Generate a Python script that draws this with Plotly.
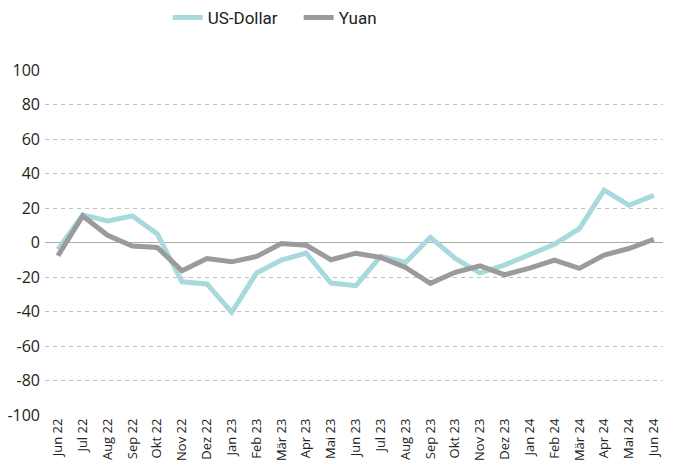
import plotly.graph_objects as go

months = ["Jun 22", "Jul 22", "Aug 22", "Sep 22", "Okt 22", "Nov 22", "Dez 22",
          "Jan 23", "Feb 23", "Mär 23", "Apr 23", "Mai 23", "Jun 23", "Jul 23",
          "Aug 23", "Sep 23", "Okt 23", "Nov 23", "Dez 23", "Jan 24", "Feb 24",
          "Mär 24", "Apr 24", "Mai 24", "Jun 24"]

usd = [-4, 16, 12.5, 15.4, 5, -22.8, -24, -40.5, -17.7, -10.2, -6.2, -23.5, -25,
       -8, -11.6, 3, -9.2, -17.7, -13, -7.3, -1, 8, 30.4, 21.6, 27.3]

yuan = [-7.7, 15.4, 4.2, -2, -2.9, -16.4, -9.3, -11.2, -8.1, -0.6, -1.6, -10,
        -6.2, -8.7, -14.5, -23.7, -17.3, -13.5, -18.7, -14.9, -10.2, -15, -7.3,
        -3.5, 1.9]

y_ticks = [-100, -80, -60, -40, -20, 0, 20, 40, 60, 80, 100]
y_labels = [str(v) for v in y_ticks]

fig = go.Figure()
fig.add_trace(go.Scatter(x=months, y=usd, name="US-Dollar", mode="lines",
                         line=dict(color="#a8dadd", width=5)))
fig.add_trace(go.Scatter(x=months, y=yuan, name="Yuan", mode="lines",
                         line=dict(color="#9b9b9b", width=5)))

fig.update_layout(
    width=678, height=470,
    margin=dict(l=45, r=15, t=70, b=55, autoexpand=False),
    paper_bgcolor="white", plot_bgcolor="white",
    font=dict(family="Open Sans", color="#222"),
    showlegend=True,
    legend=dict(orientation="h", x=0.1985, xanchor="left", yref="container",
                y=0.962, yanchor="middle",
                font=dict(size=17, family="Roboto"),
                itemwidth=30, entrywidth=86, entrywidthmode="pixels"),
    xaxis=dict(type="category", range=[-0.52, 24.37], showgrid=False,
               tickangle=-90, tickfont=dict(size=13), ticks="", showline=False,
               zeroline=False, automargin=False),
    yaxis=dict(range=[-100, 100], tickvals=y_ticks, ticktext=y_labels,
               showgrid=True, gridcolor="#c0c0c0", griddash="4px,4px", gridwidth=1,
               zeroline=True, zerolinecolor="#aaaaaa", zerolinewidth=1,
               tickfont=dict(size=16), ticks="", showline=False,
               ticklabelstandoff=4, automargin=False),
)
fig.write_html("out.html", post_script="document.body.style.margin='0';",
               config={"displayModeBar": False})
